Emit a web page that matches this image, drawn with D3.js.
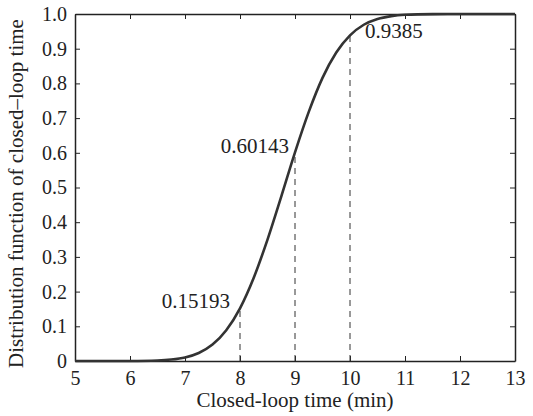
<!DOCTYPE html>
<html>
<head>
<meta charset="utf-8">
<script src="https://cdn.jsdelivr.net/npm/d3@7"></script>
<style>
  body { margin: 0; background: #fff; }
  svg text { font-family: "Liberation Serif", "DejaVu Serif", serif; fill: #222; }
</style>
</head>
<body>
<div id="container"></div>
<script>
// Curve values
const timeValues = [5, 5.5, 6, 6.5, 6.75, 7, 7.25, 7.5, 7.75, 8, 8.25, 8.5, 8.75, 9,
                    9.25, 9.5, 9.75, 10, 10.25, 10.5, 10.75, 11, 11.5, 12, 13];
const cdfValues = [0, 0.00001, 0.0002, 0.0016, 0.0042, 0.0103, 0.0232, 0.0474, 0.0886, 0.15193, 0.240, 0.350, 0.474, 0.60143,
                   0.718, 0.816, 0.889, 0.9385, 0.969, 0.9856, 0.9939, 0.9977, 0.9997, 1.0, 1.0];

// Marked points
const markTimes = [8, 9, 10];
const markValues = [0.15193, 0.60143, 0.9385];
const markLabels = ["0.15193", "0.60143", "0.9385"];

const xTicks = [5, 6, 7, 8, 9, 10, 11, 12, 13];
const yTicks = [0, 0.1, 0.2, 0.3, 0.4, 0.5, 0.6, 0.7, 0.8, 0.9, 1.0];

const width = 533;
const height = 416;
const margin = {top: 14, right: 18, bottom: 55, left: 75};
const plotW = width - margin.left - margin.right;
const plotH = height - margin.top - margin.bottom;

const svg = d3.select("#container")
    .append("svg")
    .attr("width", width)
    .attr("height", height);

const g = svg.append("g")
    .attr("transform", `translate(${margin.left}, ${margin.top})`);

const xScale = d3.scaleLinear().domain([5, 13]).range([0, plotW]);
const yScale = d3.scaleLinear().domain([0, 1]).range([plotH, 0]);

const yFormat = d => d === 0 ? "0" : d3.format(".1f")(d);

//Axes with inward ticks
const xAxis = g.append("g")
    .attr("transform", `translate(0, ${plotH})`)
    .call(d3.axisBottom(xScale).tickValues(xTicks).tickSizeInner(-5).tickSizeOuter(0).tickPadding(10));
const yAxis = g.append("g")
    .call(d3.axisLeft(yScale).tickValues(yTicks).tickFormat(yFormat).tickSizeInner(-5).tickSizeOuter(0).tickPadding(8));
const xTop = g.append("g")
    .call(d3.axisTop(xScale).tickValues(xTicks).tickSizeInner(-5).tickSizeOuter(0).tickFormat(""));
const yRight = g.append("g")
    .attr("transform", `translate(${plotW}, 0)`)
    .call(d3.axisRight(yScale).tickValues(yTicks).tickSizeInner(-5).tickSizeOuter(0).tickFormat(""));

[xAxis, yAxis, xTop, yRight].forEach(a => {
    a.attr("font-family", null);
    a.selectAll(".domain").attr("stroke", "#222").attr("stroke-width", 1.5);
    a.selectAll(".tick line").attr("stroke", "#222").attr("stroke-width", 1);
    a.selectAll(".tick text").style("font-size", "20px").attr("fill", "#222");
});

//Dashed lines
g.selectAll(".drop")
    .data(markTimes)
    .enter()
    .append("line")
    .attr("class", "drop")
    .attr("x1", d => xScale(d))
    .attr("x2", d => xScale(d))
    .attr("y1", yScale(0))
    .attr("y2", (d, i) => yScale(markValues[i]))
    .attr("stroke", "#333")
    .attr("stroke-width", 1)
    .attr("stroke-dasharray", "6,5");

//Curve
const line = d3.line()
    .x((d, i) => xScale(timeValues[i]))
    .y(d => yScale(d))
    .curve(d3.curveMonotoneX);

g.append("path")
    .datum(cdfValues)
    .attr("d", line)
    .attr("fill", "none")
    .attr("stroke", "#333")
    .attr("stroke-width", 2.6);

//Point labels
const labelDx = [-10, -6, 15];
const labelDy = [0, 1, 3];
const labelAnchor = ["end", "end", "start"];
g.selectAll(".mark-label")
    .data(markLabels)
    .enter()
    .append("text")
    .attr("class", "mark-label")
    .attr("x", (d, i) => xScale(markTimes[i]) + labelDx[i])
    .attr("y", (d, i) => yScale(markValues[i]) + labelDy[i])
    .attr("text-anchor", (d, i) => labelAnchor[i])
    .style("font-size", "21px")
    .text(d => d);

//Axis labels
svg.append("text")
    .attr("x", margin.left + plotW / 2)
    .attr("y", 407)
    .attr("text-anchor", "middle")
    .style("font-size", "21px")
    .text("Closed-loop time (min)");

svg.append("text")
    .attr("transform", `translate(23, ${margin.top + plotH / 2 + 6}) rotate(-90)`)
    .attr("text-anchor", "middle")
    .style("font-size", "21px")
    .text("Distribution function of closed\u2013loop time");
</script>
</body>
</html>
